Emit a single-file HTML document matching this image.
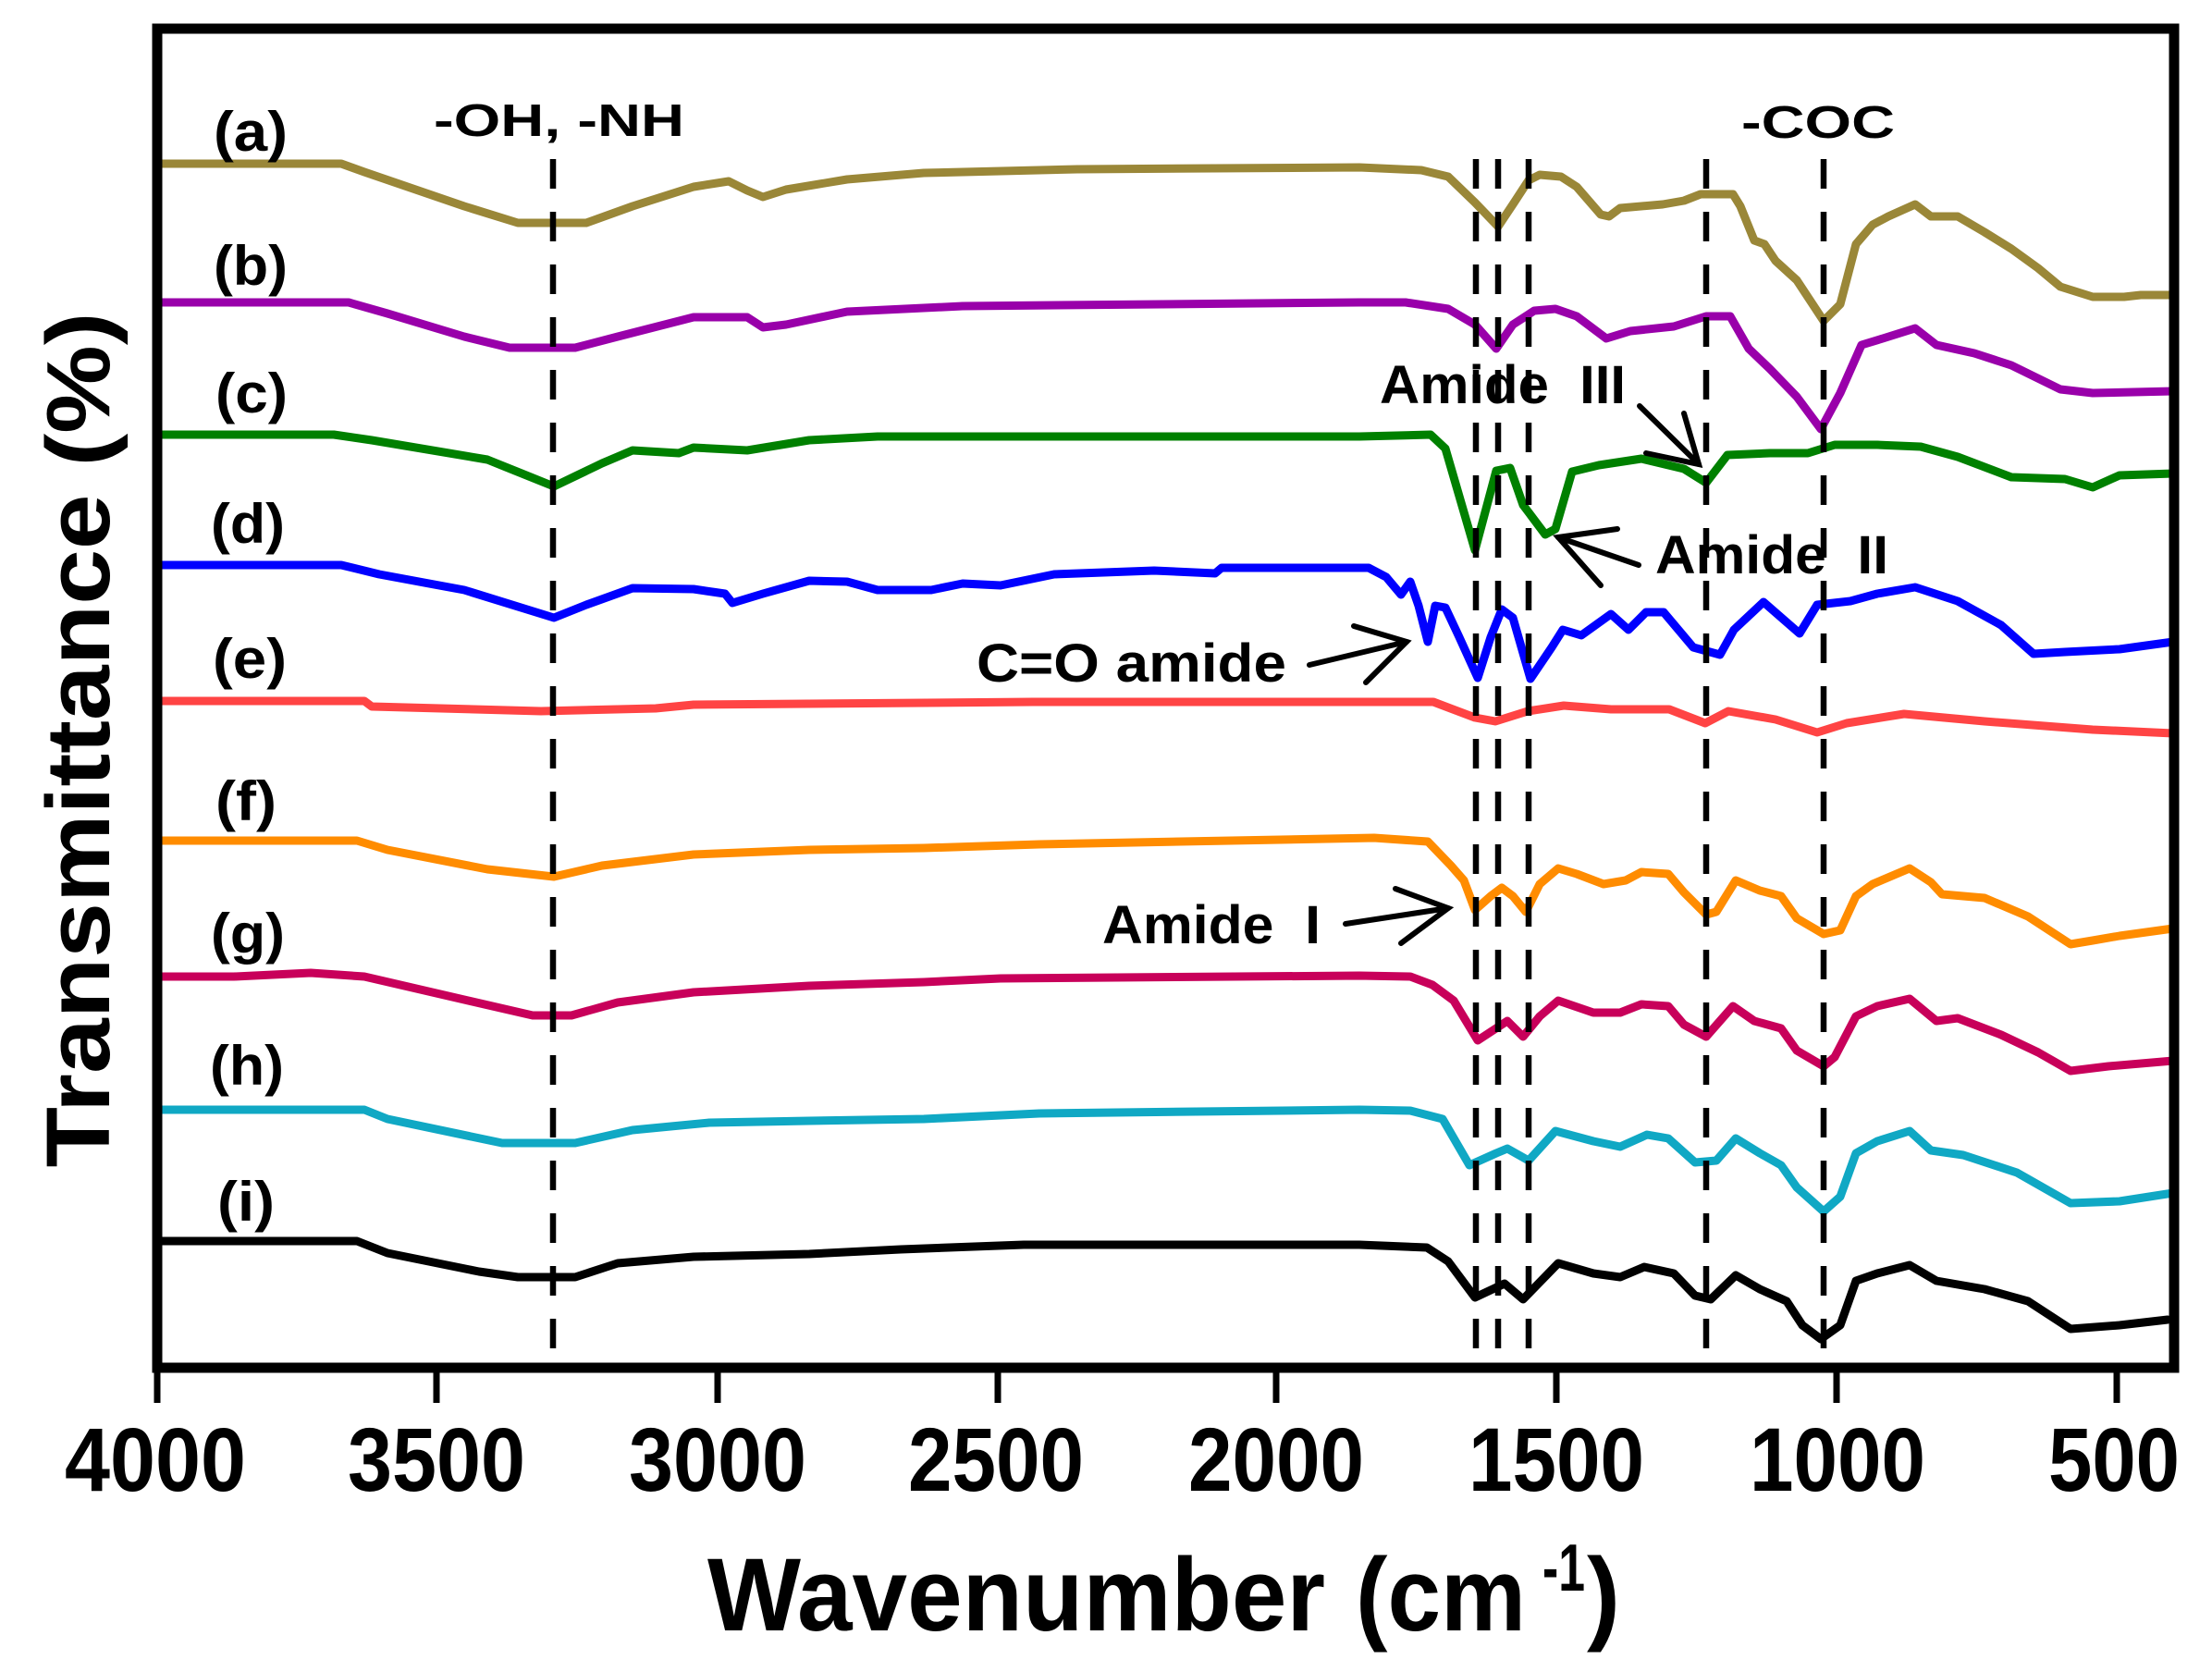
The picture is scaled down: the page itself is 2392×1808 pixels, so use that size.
<!DOCTYPE html>
<html><head><meta charset="utf-8"><style>
html,body{margin:0;padding:0;background:#fff;}
svg{display:block;}
text{font-family:"Liberation Sans",Arial,sans-serif;font-weight:bold;fill:#000;}
</style></head><body>
<svg width="2392" height="1808" viewBox="0 0 2392 1808" xmlns="http://www.w3.org/2000/svg">
<rect width="2392" height="1808" fill="#fff"/>
<g fill="none" stroke-width="9" stroke-linejoin="round" stroke-linecap="round">
<polyline stroke="#9A8738" points="170,177 369,177 394,186 502,223 560,241 634,241 684,223 750,202 788,196 808,206 825,213 850,205 916,194 999,187 1165,183 1470,181 1537,184 1566,191 1595,219 1620,245 1636,221 1653,195 1665,189 1688,191 1705,202 1731,232 1740,234 1752,225 1798,221 1821,217 1839,210 1874,210 1882,223 1897,260 1908,264 1920,282 1943,303 1972,347 1990,329 2007,264 2025,243 2042,234 2071,221 2088,234 2117,234 2146,251 2175,269 2204,290 2228,310 2263,321 2297,321 2315,319 2350,319"/>
<polyline stroke="#9900AA" points="170,327 377,327 419,339 502,364 551,376 622,376 668,364 750,343 808,343 825,354 850,351 916,337 1041,331 1470,327 1520,327 1566,334 1595,351 1618,377 1636,351 1659,336 1682,334 1705,342 1737,366 1763,358 1810,353 1845,342 1871,342 1891,377 1914,399 1943,429 1969,464 1990,425 2013,373 2036,366 2071,355 2094,373 2135,382 2175,395 2228,421 2263,425 2350,423"/>
<polyline stroke="#008000" points="170,470 361,470 402,476 527,497 599,526 651,501 684,487 734,490 750,484 808,487 875,476 949,472 1470,472 1547,470 1563,485 1595,595 1618,509 1633,506 1647,546 1671,578 1682,572 1700,510 1729,503 1775,496 1821,507 1845,522 1868,492 1914,490 1955,490 1984,481 2030,481 2077,483 2117,494 2175,516 2233,518 2263,527 2292,514 2350,512"/>
<polyline stroke="#0000FF" points="170,611 369,611 410,621 502,638 599,668 634,654 684,636 750,637 784,642 792,652 825,642 875,628 916,629 949,638 1007,638 1041,631 1082,633 1140,621 1248,617 1314,620 1321,614 1480,614 1499,624 1515,643 1525,629 1534,655 1544,694 1552,655 1563,657 1578,689 1598,733 1612,689 1624,659 1636,668 1655,734 1678,700 1690,681 1710,687 1742,664 1761,681 1780,662 1799,662 1831,700 1860,708 1875,681 1907,651 1946,685 1965,654 2001,650 2030,642 2071,635 2117,650 2164,676 2199,707 2233,705 2292,702 2350,694"/>
<polyline stroke="#FF4444" points="170,758 394,758 402,764 585,769 709,766 750,762 1117,759 1550,759 1595,776 1617,780 1652,769 1691,763 1742,767 1805,767 1844,782 1869,769 1920,778 1965,792 1997,782 2059,772 2146,780 2263,789 2350,793"/>
<polyline stroke="#FF8C00" points="170,909 386,909 419,919 527,940 599,948 651,936 750,924 875,919 999,917 1124,913 1486,906 1544,910 1569,936 1583,952 1595,984 1612,969 1624,960 1636,969 1650,986 1665,956 1685,939 1705,945 1734,956 1758,952 1775,943 1804,945 1821,965 1845,989 1856,986 1877,952 1903,963 1926,969 1943,993 1972,1010 1990,1006 2007,969 2025,956 2065,939 2088,954 2100,967 2146,971 2193,991 2239,1021 2263,1017 2292,1012 2350,1004"/>
<polyline stroke="#C8005A" points="170,1056 253,1056 336,1052 394,1056 502,1081 576,1098 618,1098 668,1084 750,1073 875,1066 999,1062 1082,1058 1470,1055 1525,1056 1549,1065 1572,1082 1598,1125 1630,1104 1647,1121 1665,1099 1685,1082 1723,1095 1752,1095 1775,1086 1804,1088 1821,1108 1845,1121 1874,1088 1897,1104 1926,1112 1943,1136 1972,1153 1984,1143 2007,1099 2030,1088 2065,1080 2094,1104 2117,1101 2164,1119 2204,1138 2239,1158 2280,1153 2350,1147"/>
<polyline stroke="#10A8C4" points="170,1200 394,1200 419,1210 543,1236 622,1236 684,1222 767,1214 875,1212 999,1210 1124,1204 1470,1200 1525,1201 1560,1210 1589,1260 1618,1247 1630,1242 1653,1255 1682,1223 1723,1234 1752,1240 1781,1227 1804,1231 1833,1257 1856,1255 1877,1231 1903,1247 1926,1260 1943,1284 1972,1310 1990,1294 2007,1247 2030,1234 2065,1223 2088,1244 2123,1249 2181,1268 2239,1301 2292,1299 2350,1290"/>
<polyline stroke="#000000" points="170,1342 386,1342 419,1355 518,1375 560,1381 622,1381 668,1366 750,1359 875,1356 974,1351 1107,1346 1470,1346 1543,1349 1566,1364 1595,1403 1627,1388 1647,1405 1685,1366 1723,1377 1752,1381 1778,1370 1810,1377 1833,1401 1850,1405 1877,1379 1903,1394 1932,1407 1949,1433 1969,1448 1990,1433 2007,1385 2030,1377 2065,1368 2094,1385 2146,1394 2193,1407 2239,1437 2292,1433 2344,1427"/>
</g>
<g stroke="#000" stroke-width="6.5" stroke-dasharray="32 25">
<line x1="598" y1="172" x2="598" y2="1474"/>
<line x1="1596" y1="172" x2="1596" y2="1474"/>
<line x1="1620" y1="172" x2="1620" y2="1474"/>
<line x1="1653" y1="172" x2="1653" y2="1474"/>
<line x1="1845" y1="172" x2="1845" y2="1474"/>
<line x1="1972" y1="172" x2="1972" y2="1474"/>
</g>
<rect x="170" y="31" width="2181" height="1448" fill="none" stroke="#000" stroke-width="11"/>
<g stroke="#000" stroke-width="7">
<line x1="170" y1="1479" x2="170" y2="1517"/>
<line x1="472" y1="1479" x2="472" y2="1517"/>
<line x1="776" y1="1479" x2="776" y2="1517"/>
<line x1="1079" y1="1479" x2="1079" y2="1517"/>
<line x1="1380" y1="1479" x2="1380" y2="1517"/>
<line x1="1683" y1="1479" x2="1683" y2="1517"/>
<line x1="1986" y1="1479" x2="1986" y2="1517"/>
<line x1="2289" y1="1479" x2="2289" y2="1517"/>
</g>
<g font-size="97" text-anchor="middle">
<text x="168" y="1612" textLength="196" lengthAdjust="spacingAndGlyphs">4000</text>
<text x="472" y="1612" textLength="192" lengthAdjust="spacingAndGlyphs">3500</text>
<text x="776" y="1612" textLength="192" lengthAdjust="spacingAndGlyphs">3000</text>
<text x="1077" y="1612" textLength="190" lengthAdjust="spacingAndGlyphs">2500</text>
<text x="1380" y="1612" textLength="190" lengthAdjust="spacingAndGlyphs">2000</text>
<text x="1683" y="1612" textLength="190" lengthAdjust="spacingAndGlyphs">1500</text>
<text x="1987" y="1612" textLength="190" lengthAdjust="spacingAndGlyphs">1000</text>
<text x="2286" y="1612" textLength="142" lengthAdjust="spacingAndGlyphs">500</text>
</g>
<text x="765" y="1763" font-size="112" textLength="668" lengthAdjust="spacingAndGlyphs">Wavenumber</text>
<text x="1466" y="1763" font-size="112" textLength="184" lengthAdjust="spacingAndGlyphs">(cm</text>
<text x="1668" y="1720" font-size="72" textLength="46" lengthAdjust="spacingAndGlyphs">-1</text>
<text x="1716" y="1763" font-size="112" textLength="36" lengthAdjust="spacingAndGlyphs">)</text>
<text transform="translate(118,800) rotate(-90)" font-size="97" text-anchor="middle" textLength="925" lengthAdjust="spacingAndGlyphs">Transmittance (%)</text>
<g font-size="60">
<text x="231" y="163" textLength="80" lengthAdjust="spacingAndGlyphs">(a)</text>
<text x="231" y="308" textLength="80" lengthAdjust="spacingAndGlyphs">(b)</text>
<text x="233" y="446" textLength="78" lengthAdjust="spacingAndGlyphs">(c)</text>
<text x="228" y="587" textLength="80" lengthAdjust="spacingAndGlyphs">(d)</text>
<text x="230" y="733" textLength="80" lengthAdjust="spacingAndGlyphs">(e)</text>
<text x="233" y="887" textLength="66" lengthAdjust="spacingAndGlyphs">(f)</text>
<text x="228" y="1030" textLength="80" lengthAdjust="spacingAndGlyphs">(g)</text>
<text x="227" y="1173" textLength="80" lengthAdjust="spacingAndGlyphs">(h)</text>
<text x="235" y="1320" textLength="62" lengthAdjust="spacingAndGlyphs">(i)</text>
</g>
<text x="469" y="147" font-size="49" textLength="271" lengthAdjust="spacingAndGlyphs">-OH, -NH</text>
<text x="1883" y="149" font-size="49" textLength="166" lengthAdjust="spacingAndGlyphs">-COC</text>
<g font-size="58">
<text x="1492" y="436" textLength="266" lengthAdjust="spacingAndGlyphs">Amide&#160;&#160;III</text>
<text x="1790" y="620" textLength="252" lengthAdjust="spacingAndGlyphs">Amide&#160;&#160;II</text>
<text x="1056" y="737" textLength="335" lengthAdjust="spacingAndGlyphs">C=O amide</text>
<text x="1192" y="1020" textLength="236" lengthAdjust="spacingAndGlyphs">Amide&#160;&#160;I</text>
</g>
<g stroke="#000" stroke-width="6" stroke-linecap="round" fill="none">
<line x1="1773" y1="439" x2="1837" y2="502"/>
<polyline points="1780,490 1837,502 1821,447"/>
<line x1="1772" y1="611" x2="1685" y2="581"/>
<polyline points="1749,572 1685,581 1731,633"/>
<line x1="1416" y1="719" x2="1521" y2="694"/>
<polyline points="1464,677 1521,694 1477,738"/>
<line x1="1455" y1="999" x2="1566" y2="982"/>
<polyline points="1509,961 1566,982 1515,1020"/>
</g>
</svg>
</body></html>
